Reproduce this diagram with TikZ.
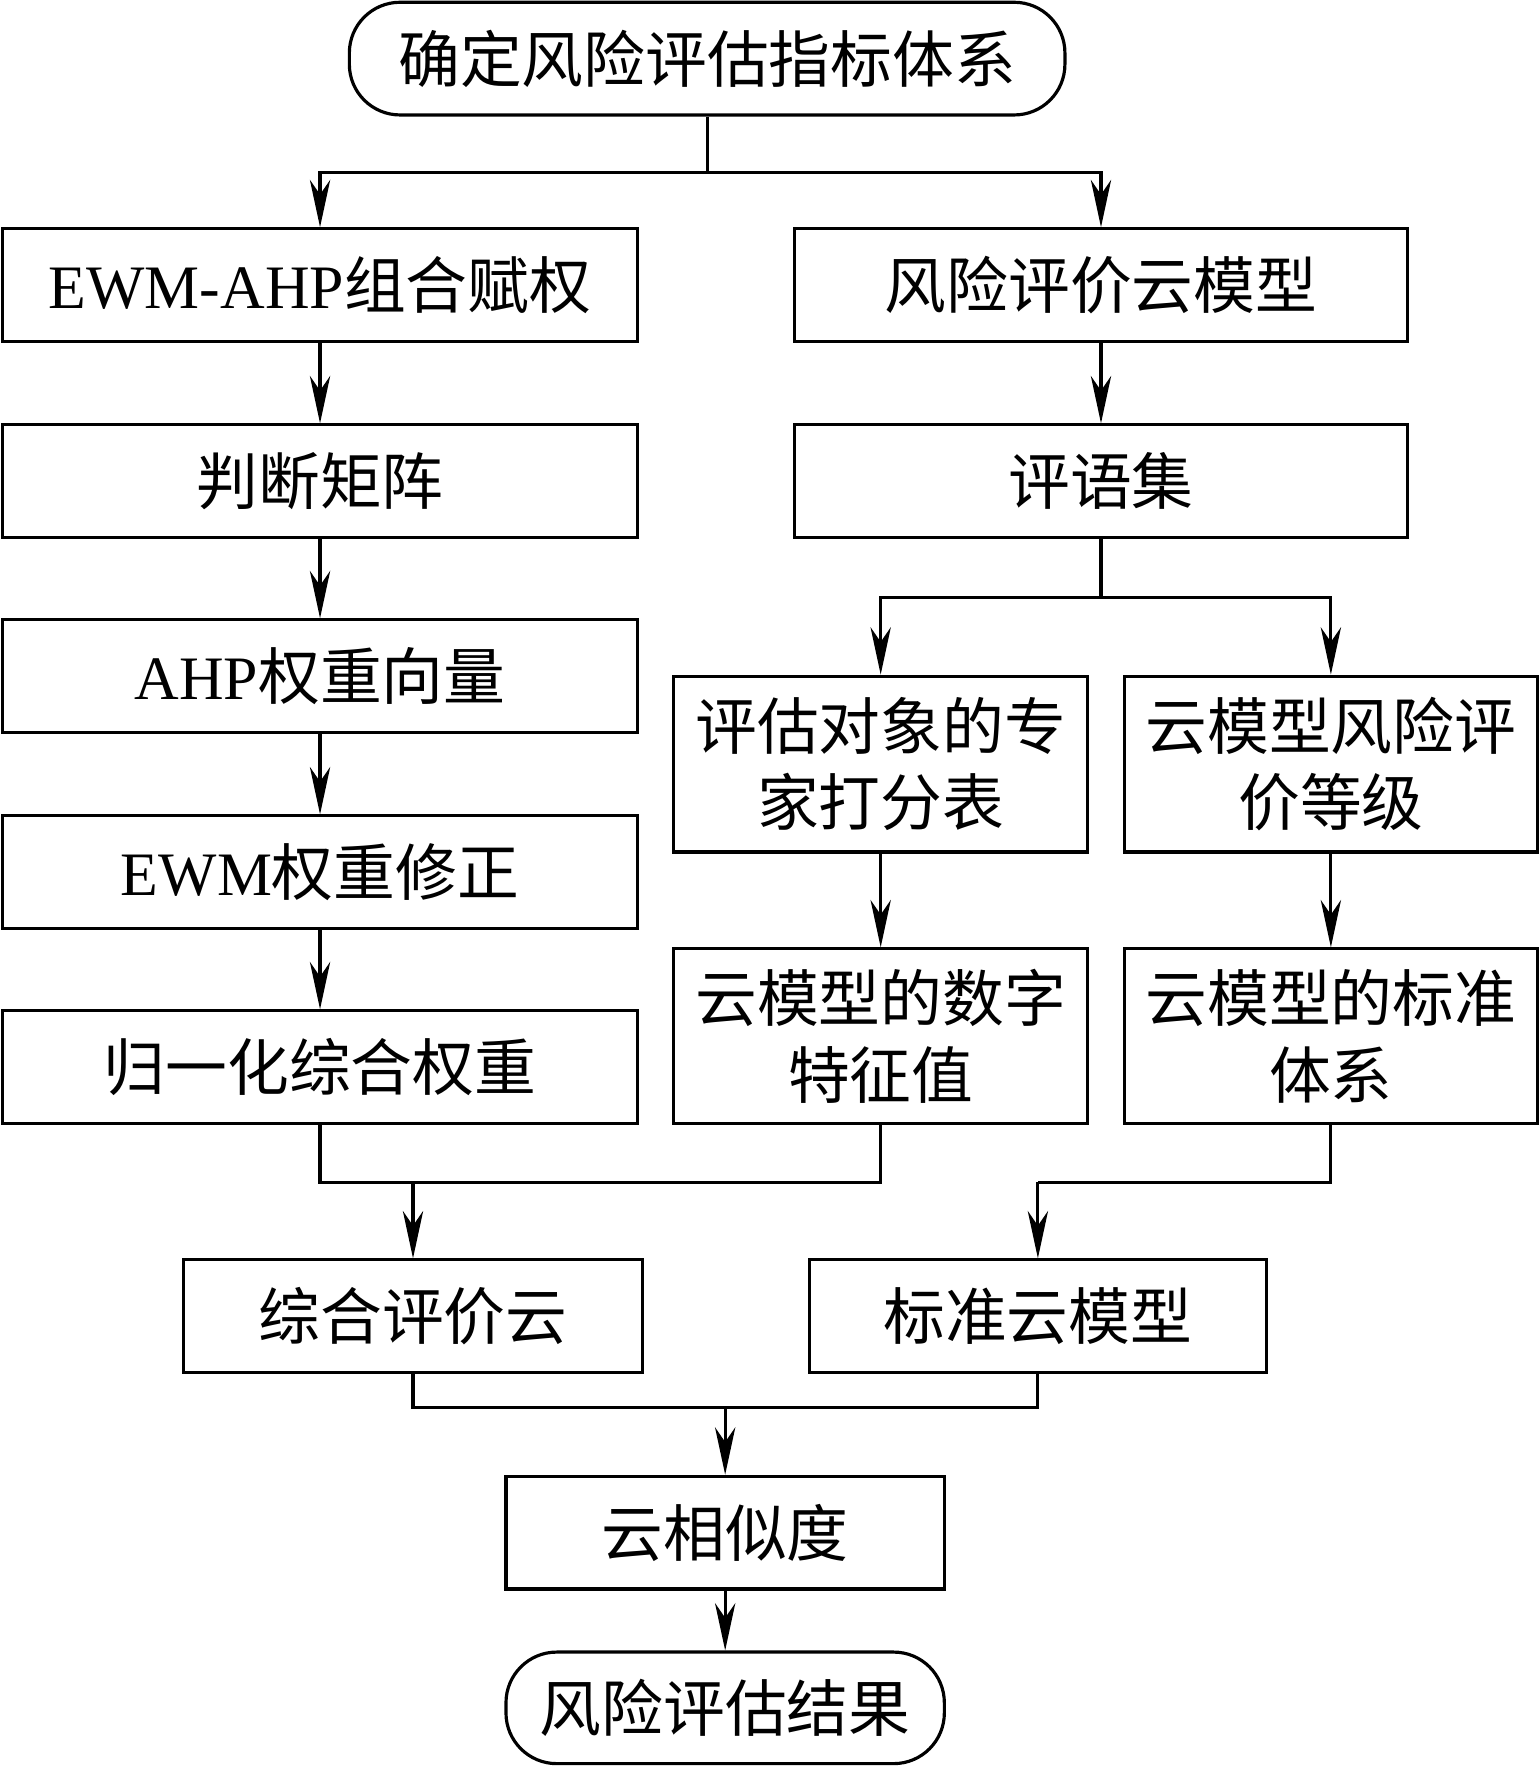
\documentclass[tikz,border=0pt]{standalone}
\usepackage{fontspec}
\setmainfont{Liberation Serif}
\newfontfamily\cjk{Noto Sans CJK SC}
\usetikzlibrary{positioning}
\usetikzlibrary{arrows.meta}

\begin{document}
\begin{tikzpicture}[x=0.1mm,y=-0.1mm]

 \tikzset{box/.style={
 		draw, line width=0.8pt,
 		minimum height=1cm,
 		inner sep=0pt,
 		align=center,
 		font=\fontsize{15.6pt}{19.3pt}\selectfont\cjk
 	},
 	term/.style={box, rounded corners=0.45cm},
 	flow/.style={-{Stealth[length=4.2mm,width=1.8mm,inset=1.3mm]}, line width=0.8pt},
 	line/.style={line width=0.8pt}
 }
 \useasboundingbox (0,0) rectangle (1366,1568);

 %top
 \node[term, minimum width=6.35cm] (index) at (627.5,52) {确定风险评估指标体系};

 %left column
 \node[box, minimum width=5.64cm] (ewmahp) at (284,253) {{\rmfamily EWM-AHP}组合赋权};
 \node[box, minimum width=5.64cm] (matrix) at (284,427) {判断矩阵};
 \node[box, minimum width=5.64cm] (ahpw) at (284,600) {{\rmfamily AHP}权重向量};
 \node[box, minimum width=5.64cm] (ewmw) at (284,774) {{\rmfamily EWM}权重修正};
 \node[box, minimum width=5.64cm] (normw) at (284,947) {归一化综合权重};

 %right column
 \node[box, minimum width=5.44cm] (cloud) at (977,253) {风险评价云模型};
 \node[box, minimum width=5.44cm] (remark) at (977,427) {评语集};
 \node[box, minimum width=3.67cm, minimum height=1.56cm] (expert) at (781.5,678) {评估对象的专\\家打分表};
 \node[box, minimum width=3.66cm, minimum height=1.56cm] (grade) at (1181,678) {云模型风险评\\价等级};
 \node[box, minimum width=3.67cm, minimum height=1.55cm] (digit) at (781.5,919.5) {云模型的数字\\特征值};
 \node[box, minimum width=3.66cm, minimum height=1.55cm] (stdsys) at (1181,919.5) {云模型的标准\\体系};

 %bottom
 \node[box, minimum width=4.07cm] (evalc) at (366.5,1168) {综合评价云};
 \node[box, minimum width=4.06cm] (stdc) at (921,1168) {标准云模型};
 \node[box, minimum width=3.89cm] (simil) at (643.5,1360) {云相似度};
 \node[term, minimum width=3.89cm, minimum height=0.99cm] (result) at (643.5,1515.5) {风险评估结果};

 %connectors
 \draw[line] (index.south) -- (index.south |- 0,153) coordinate (s1);
 \draw[flow] (s1) -| (ewmahp.north);
 \draw[flow] (s1) -| (cloud.north);
 \draw[flow] (ewmahp) -- (matrix);
 \draw[flow] (matrix) -- (ahpw);
 \draw[flow] (ahpw) -- (ewmw);
 \draw[flow] (ewmw) -- (normw);
 \draw[flow] (cloud) -- (remark);
 \draw[line] (remark.south) -- (remark.south |- 0,530) coordinate (s2);
 \draw[flow] (s2) -| (expert.north);
 \draw[flow] (s2) -| (grade.north);
 \draw[flow] (expert) -- (digit);
 \draw[flow] (grade) -- (stdsys);
 \draw[line] (normw.south) -- (normw.south |- 0,1049) -| (digit.south);
 \coordinate (s3) at (evalc.north |- 0,1049);
 \draw[flow] (s3) -- (evalc.north);
 \draw[line] (stdsys.south) |- (stdc.north |- 0,1049) coordinate (s4);
 \draw[flow] (s4) -- (stdc.north);
 \draw[line] (evalc.south) -- (evalc.south |- 0,1249) -| (stdc.south);
 \coordinate (s5) at (simil.north |- 0,1249);
 \draw[flow] (s5) -- (simil.north);
 \draw[flow] (simil) -- (result);

\end{tikzpicture}
\end{document}
